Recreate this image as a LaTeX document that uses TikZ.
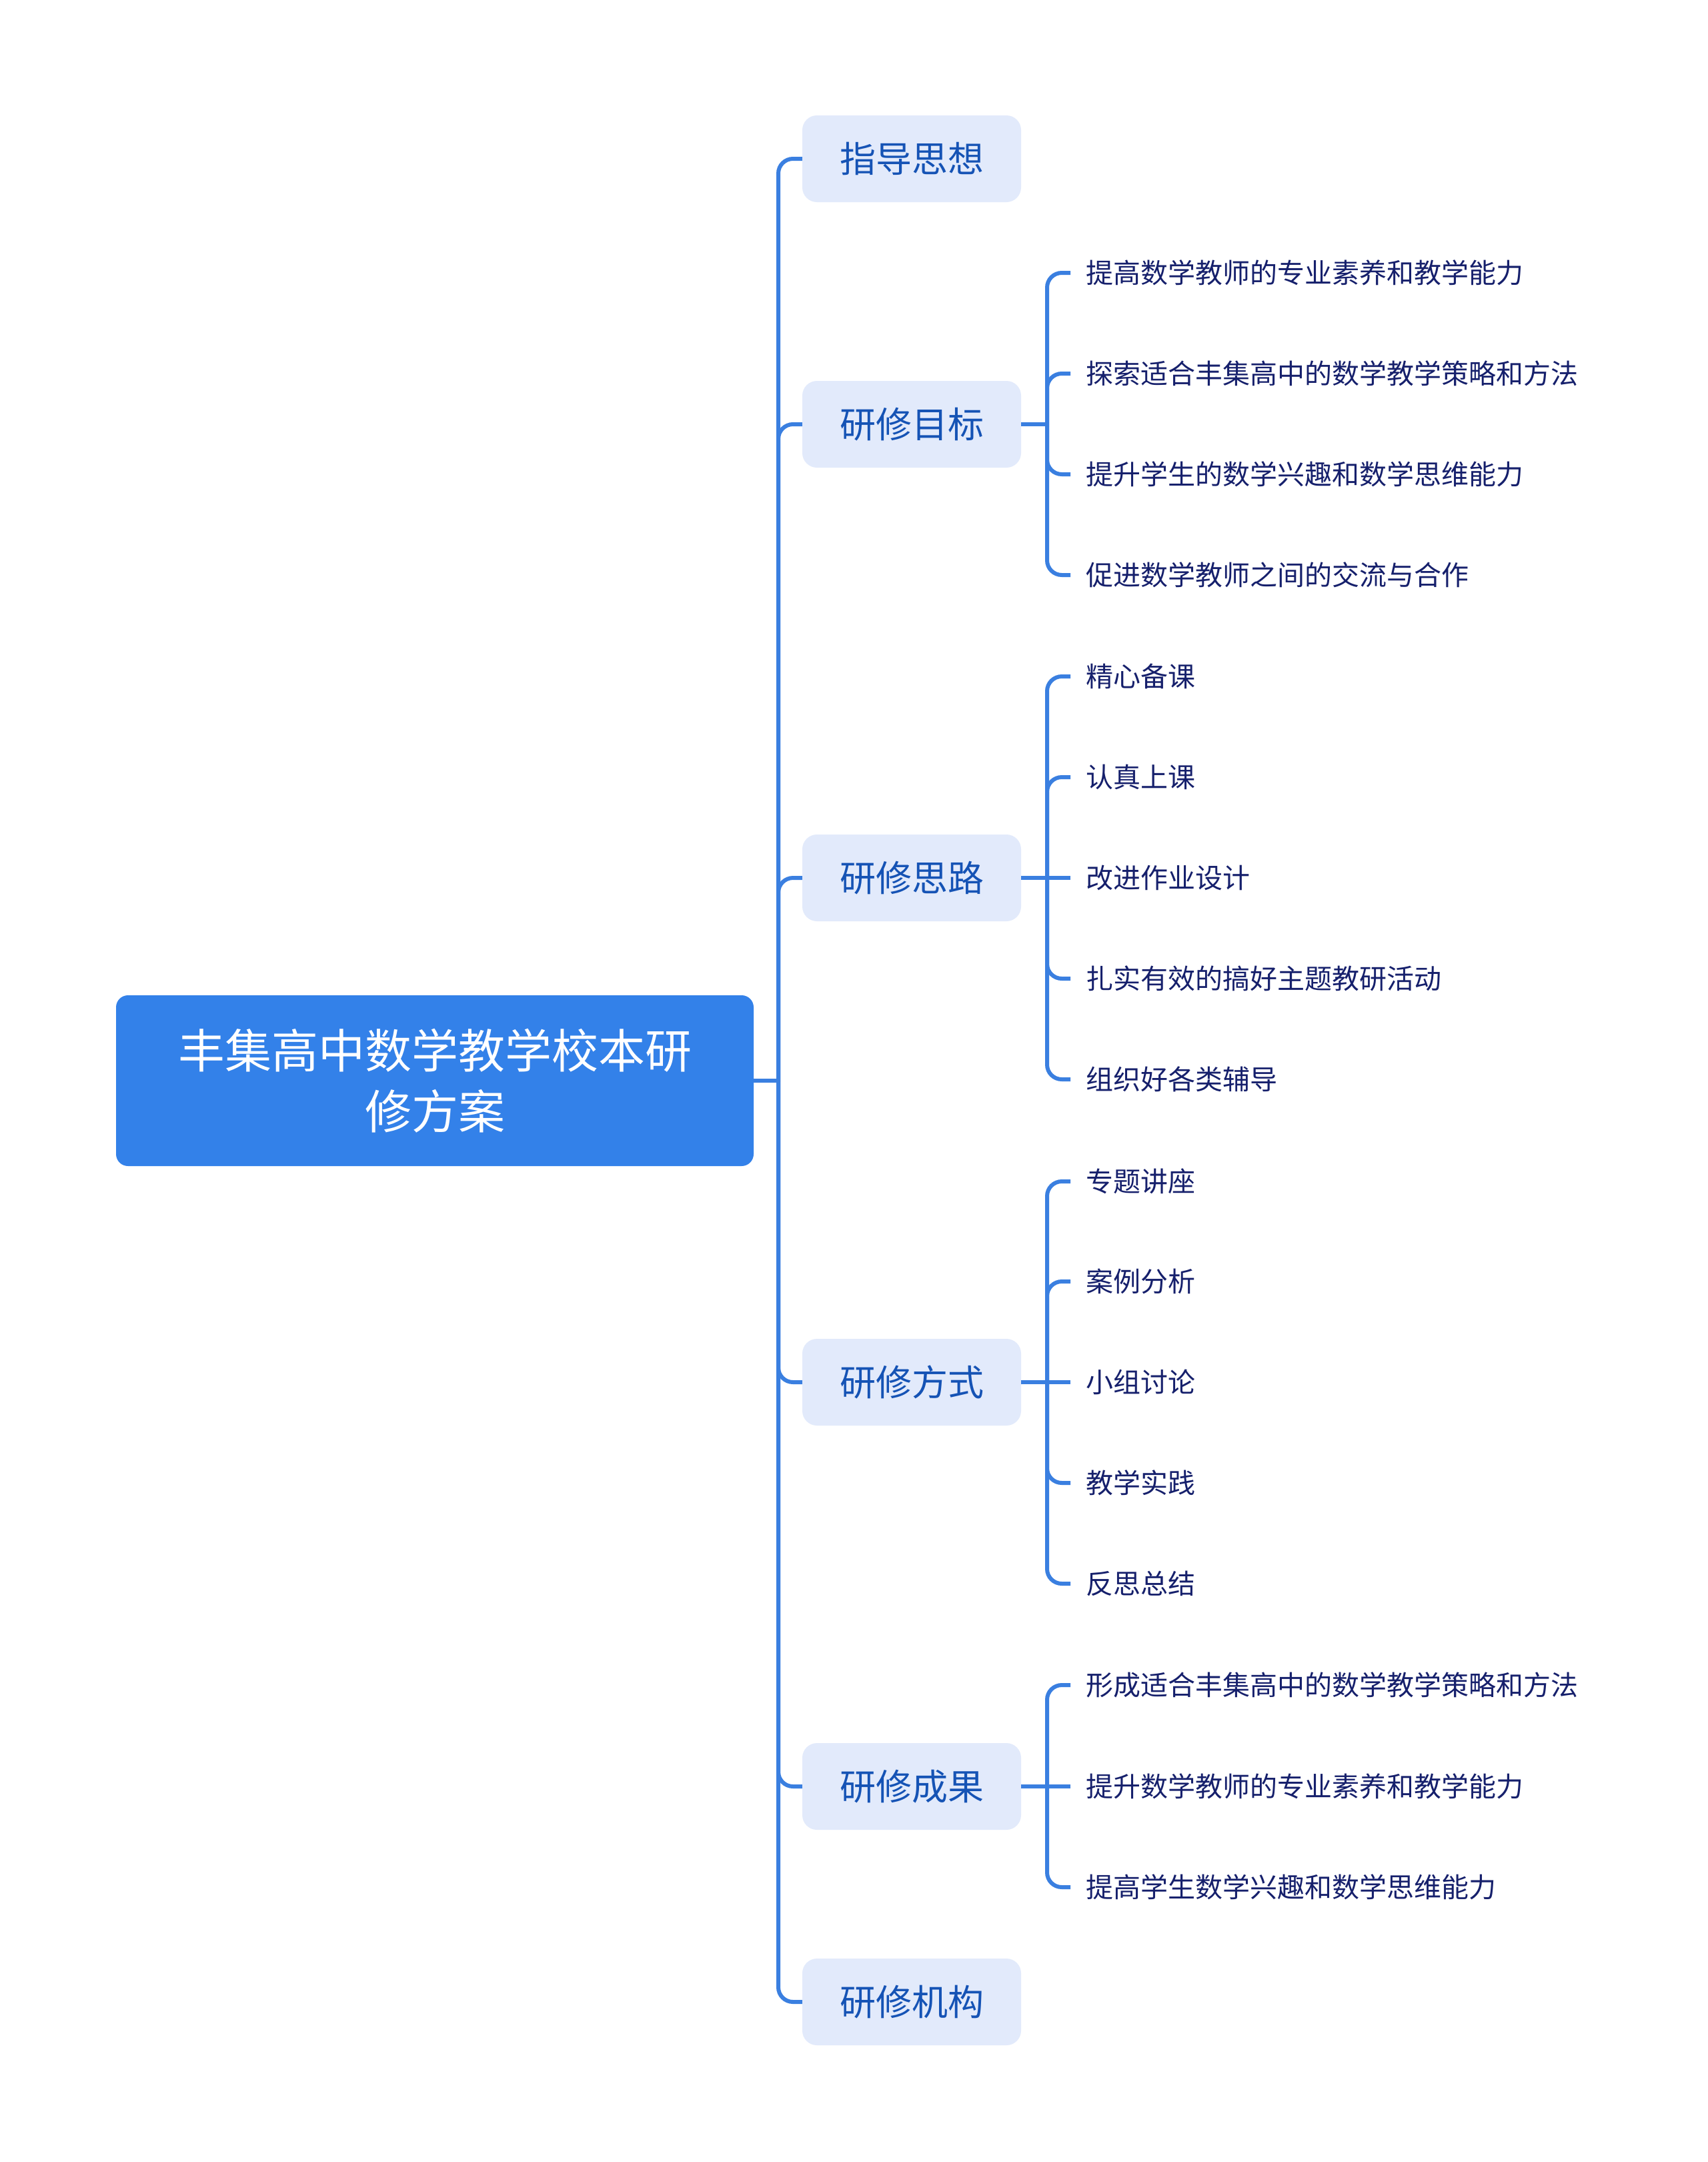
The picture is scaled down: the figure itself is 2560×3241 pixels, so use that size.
\documentclass[tikz,border=0pt]{standalone}
\usepackage{fontspec}
\setmainfont{Noto Sans CJK SC}
\definecolor{rootblue}{HTML}{3381E9}
\definecolor{lineblue}{HTML}{3A7FE0}
\definecolor{topicfill}{HTML}{E2EAFB}
\definecolor{topictext}{HTML}{1553B5}
\definecolor{leaftext}{HTML}{16206C}
\begin{document}
\begin{tikzpicture}[x=1pt,y=-1pt,
  conn/.style={draw=lineblue, line width=6pt, rounded corners=22pt},
  rootbox/.style={fill=rootblue, rounded corners=18pt, minimum width=956pt, minimum height=256pt, text=white, font=\fontsize{70}{91}\selectfont, align=center, inner sep=0pt},
  topic/.style={fill=topicfill, rounded corners=22pt, minimum width=328pt, minimum height=130pt, text=topictext, font=\fontsize{54}{64}\selectfont, inner sep=0pt},
  leaf/.style={anchor=west, text=leaftext, font=\fontsize{41}{50}\selectfont, inner xsep=23pt, inner ysep=0pt}]
\fill[white] (0,0) rectangle (2560,3241);
\useasboundingbox (0,0) rectangle (2560,3241);

% root
\node[rootbox] (root) at (652,1620) {丰集高中数学教学校本研\\修方案};

% topics
\node[topic] (t1) at (1367,238) {指导思想};
\node[topic] (t2) at (1367,636) {研修目标};
\node[topic] (t3) at (1367,1316) {研修思路};
\node[topic] (t4) at (1367,2072) {研修方式};
\node[topic] (t5) at (1367,2678) {研修成果};
\node[topic] (t6) at (1367,3001) {研修机构};

% leaves of t2
\node[leaf] (a1) at (1605,409) {提高数学教师的专业素养和教学能力};
\node[leaf] (a2) at (1605,560) {探索适合丰集高中的数学教学策略和方法};
\node[leaf] (a3) at (1605,711) {提升学生的数学兴趣和数学思维能力};
\node[leaf] (a4) at (1605,862) {促进数学教师之间的交流与合作};
% leaves of t3
\node[leaf] (b1) at (1605,1014) {精心备课};
\node[leaf] (b2) at (1605,1165) {认真上课};
\node[leaf] (b3) at (1605,1316) {改进作业设计};
\node[leaf] (b4) at (1605,1467) {扎实有效的搞好主题教研活动};
\node[leaf] (b5) at (1605,1618) {组织好各类辅导};
% leaves of t4
\node[leaf] (c1) at (1605,1771) {专题讲座};
\node[leaf] (c2) at (1605,1921) {案例分析};
\node[leaf] (c3) at (1605,2072) {小组讨论};
\node[leaf] (c4) at (1605,2223) {教学实践};
\node[leaf] (c5) at (1605,2374) {反思总结};
% leaves of t5
\node[leaf] (d1) at (1605,2526) {形成适合丰集高中的数学教学策略和方法};
\node[leaf] (d2) at (1605,2678) {提升数学教师的专业素养和教学能力};
\node[leaf] (d3) at (1605,2829) {提高学生数学兴趣和数学思维能力};

% main trunk
\coordinate (j0) at (1167,1620);
\draw[conn] (root.east) -- (j0);
\foreach \t in {t1,t2,t3,t4,t5,t6} \draw[conn] (j0) |- (\t.west);

% sub trunks
\coordinate (j2) at (1570,636);
\draw[conn] (t2.east) -- (j2);
\foreach \c in {a1,a2,a3,a4} \draw[conn] (j2) |- (\c.west);

\coordinate (j3) at (1570,1316);
\draw[conn] (t3.east) -- (j3);
\foreach \c in {b1,b2,b4,b5} \draw[conn] (j3) |- (\c.west);
\draw[conn] (j3) -- (b3.west);

\coordinate (j4) at (1570,2072);
\draw[conn] (t4.east) -- (j4);
\foreach \c in {c1,c2,c4,c5} \draw[conn] (j4) |- (\c.west);
\draw[conn] (j4) -- (c3.west);

\coordinate (j5) at (1570,2678);
\draw[conn] (t5.east) -- (j5);
\foreach \c in {d1,d3} \draw[conn] (j5) |- (\c.west);
\draw[conn] (j5) -- (d2.west);
\end{tikzpicture}
\end{document}
